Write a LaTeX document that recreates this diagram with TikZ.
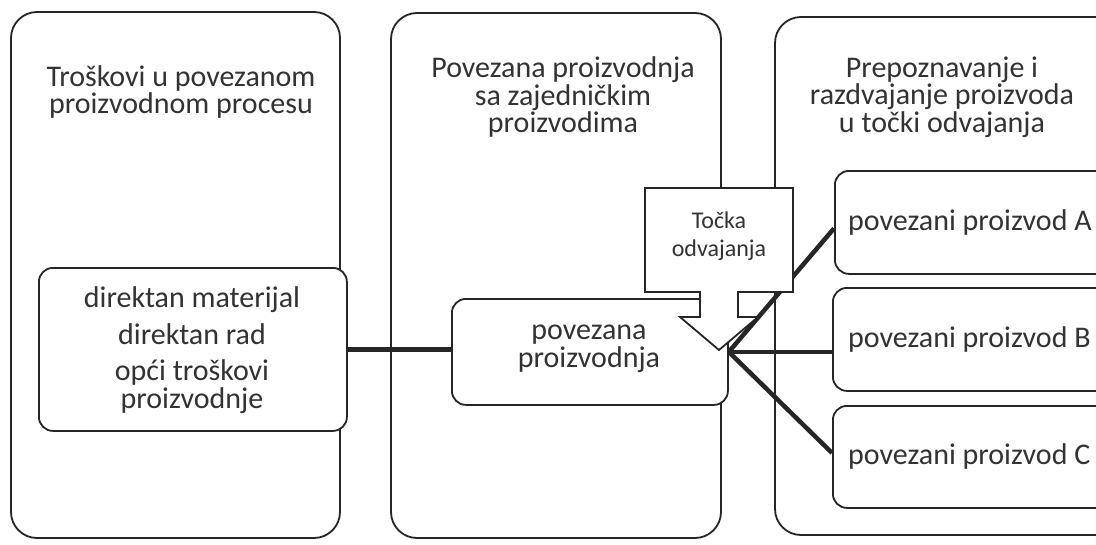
\documentclass[tikz,border=0pt]{standalone}
\usepackage{fontspec}
\setmainfont{Carlito}
\begin{document}
\begin{tikzpicture}[x=1pt,y=-1pt,
  col/.style={draw=black!85, line width=1.8pt, rounded corners=26pt, fill=white},
  ibox/.style={draw=black!85, line width=1.8pt, rounded corners=14pt, fill=white, inner sep=0pt},
  conn/.style={draw=black!85, line width=4.5pt},
  lbl/.style={font=\fontsize{30}{27.5}\selectfont, align=center, text=black!80, inner sep=0pt},
  small/.style={font=\fontsize{24}{28}\selectfont, align=center, text=black!80, inner sep=0pt},
  callout/.style={draw=black!85, line width=1.8pt, fill=white, line join=miter}]
\useasboundingbox (0,0) rectangle (1096,544);
\fill[white] (0,0) rectangle (1096,544);
% columns
\draw[col] (11,12) rectangle (340,538);
\draw[col] (391,13) rectangle (721,538);
\draw[col] (775,17) rectangle (1140,535);
% column titles
\node[lbl] (t1) at (181,92) {Troškovi u povezanom\\proizvodnom procesu};
\node[lbl] (t2) at (563,97) {Povezana proizvodnja\\sa zajedničkim\\proizvodima};
\node[lbl] (t3) at (942,97) {Prepoznavanje i\\razdvajanje proizvoda\\u točki odvajanja};
% boxes
\node[ibox, anchor=north west, minimum width=308, minimum height=163] (L) at (38,267) {};
\node[lbl] (Ltext) at (192,350) {direktan materijal\\[9pt]direktan rad\\[9pt]opći troškovi\\proizvodnje};
\node[ibox, anchor=north west, minimum width=276, minimum height=106] (M) at (451,298) {};
\node[lbl] (Mtext) at (589,349) {povezana\\proizvodnja};
\node[ibox, anchor=north west, minimum width=300, minimum height=103] (A) at (834,170) {};
\node[ibox, anchor=north west, minimum width=300, minimum height=103] (B) at (832,287) {};
\node[ibox, anchor=north west, minimum width=300, minimum height=102] (C) at (832,405) {};
\node[lbl, anchor=west] (Atext) at (848,222) {povezani proizvod A};
\node[lbl, anchor=west] (Btext) at (848,339) {povezani proizvod B};
\node[lbl, anchor=west] (Ctext) at (848,456) {povezani proizvod C};
% connectors
\draw[conn] (L.east) -- (L.east -| M.west);
\draw[conn] (M.east) -- ([yshift=-6pt]A.west);
\draw[conn] (M.east) -- (M.east -| B.west);
\draw[conn] (M.east) -- ([yshift=4pt]C.west);
% callout arrow
\draw[callout] (645,188) -- (793,188) -- (793,292) -- (738,292) -- (738,317) -- (758,317)
  -- (719,350) -- (680,317) -- (700,317) -- (700,292) -- (645,292) -- cycle;
\node[small] (tocka) at (719,236) {Točka\\odvajanja};
\end{tikzpicture}
\end{document}
